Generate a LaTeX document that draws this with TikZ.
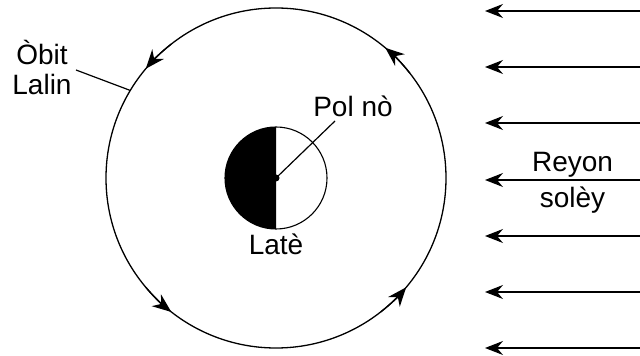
\documentclass[tikz,border=0pt]{standalone}
\usepackage{fontspec}
\setmainfont{Liberation Sans}
\usetikzlibrary{arrows.meta}
\begin{document}
\begin{tikzpicture}[x=1pt,y=1pt,
  lbl/.style={font=\fontsize{28}{30}\selectfont, inner sep=0pt},
  ray/.style={line width=1.3pt, -{Stealth[length=18pt,width=14pt,inset=6pt]}},
  orbitarrow/.style={line width=1.3pt, -{Stealth[length=19pt,width=15pt,inset=6pt]}},
  leader/.style={line width=1.2pt}]
\useasboundingbox (0,0) rectangle (640,356);
% orbit
\node[circle, draw, line width=1.3pt, minimum size=340pt, inner sep=0pt, outer sep=0pt] (orbit) at (276,178) {};
\foreach \a in {50,140,232,320}{
  \draw[orbitarrow] (orbit.center) ++(\a-12:170pt) arc (\a-12:\a:170pt);
}
% earth
\node[circle, draw, line width=1.1pt, minimum size=102pt, inner sep=0pt, outer sep=0pt] (earth) at (276,178) {};
\fill (earth.north) arc (90:270:51pt) -- cycle;
\node[circle, fill, minimum size=7pt, inner sep=0pt] (pole) at (earth.center) {};
% labels
\node[lbl, anchor=base] (poltxt) at (353,239) {Pol nò};
\coordinate (polend) at (335,235);
\draw[leader] (pole.center) -- (polend);
\node[lbl, anchor=base] (late) at (276,101) {Latè};
\node[lbl, anchor=base] (obit) at (42,291) {Òbit};
\node[lbl, anchor=base] (lalin) at (42,261) {Lalin};
\coordinate (obitend) at (76,286);
\draw[leader] (obitend) -- (orbit.149);
\node[lbl, anchor=base] (reyon) at (572.5,184) {Reyon};
\node[lbl, anchor=base] (soley) at (572.5,148) {solèy};
% sun rays
\foreach \i/\y in {1/345,2/289,3/233,4/176,5/120,6/64,7/8}{
  \coordinate (rs\i) at (640,\y);
  \coordinate (re\i) at (485,\y);
  \draw[ray] (rs\i) -- (re\i);
}
\end{tikzpicture}
\end{document}
